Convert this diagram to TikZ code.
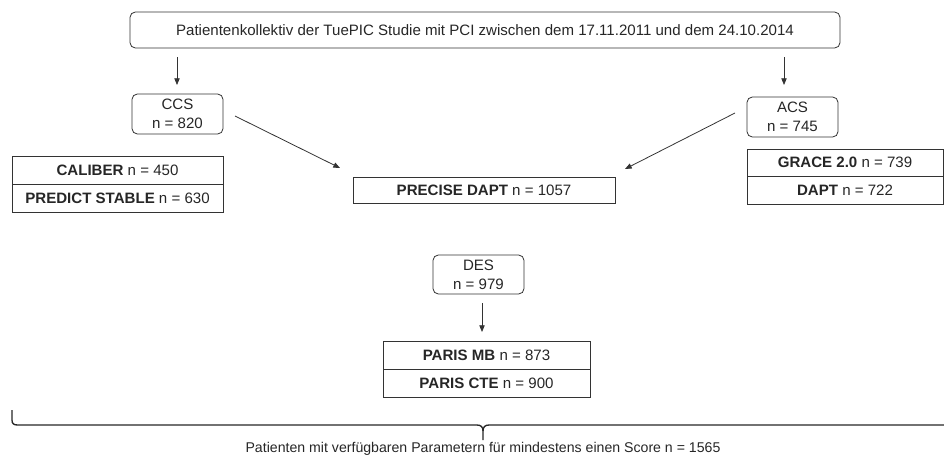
\documentclass[tikz,border=0pt]{standalone}
\usepackage{fontspec}
\setmainfont{Liberation Sans}
\usetikzlibrary{arrows.meta}
\begin{document}
\begin{tikzpicture}[x=0.75pt,y=-0.75pt,
  font=\fontsize{11.3}{14}\selectfont,
  every node/.style={inner sep=0pt, outer sep=0pt, text=black!85},
  roundbox/.style={draw=black!80, line width=0.6pt, rounded corners=4pt, align=center},
  cell/.style={draw=black!80, line width=0.6pt, align=center},
  link/.style={draw=black!80, line width=0.6pt, -{Triangle[length=5pt,width=4pt]}},
]
\useasboundingbox (0,0) rectangle (944,464);

% cohort
\node[roundbox, minimum width=532.5pt, minimum height=27pt] (all) at (485,30)
  {Patientenkollektiv der TuePIC Studie mit PCI zwischen dem 17.11.2011 und dem 24.10.2014};

% subgroups
\node[roundbox, minimum width=68.25pt, minimum height=30pt] (ccs) at (177.5,114) {CCS\\n = 820};
\node[roundbox, minimum width=68.25pt, minimum height=30pt] (acs) at (792.5,117) {ACS\\n = 745};
\node[roundbox, minimum width=68.25pt, minimum height=29.25pt] (des) at (478.5,274.5) {DES\\n = 979};

% scores for CCS
\node[cell, minimum width=158.25pt, minimum height=21pt] (caliber) at (117.5,170) {\textbf{CALIBER} n = 450};
\node[cell, minimum width=158.25pt, minimum height=21pt, anchor=north] (predict) at (caliber.south) {\textbf{PREDICT STABLE} n = 630};

% scores for ACS
\node[cell, minimum width=147pt, minimum height=20.6pt] (grace) at (845,162.75) {\textbf{GRACE 2.0} n = 739};
\node[cell, minimum width=147pt, minimum height=20.6pt, anchor=north] (dapt) at (grace.south) {\textbf{DAPT} n = 722};

% score for all
\node[cell, minimum width=196.5pt, minimum height=19.5pt] (precise) at (484,190) {\textbf{PRECISE DAPT} n = 1057};

% scores for DES
\node[cell, minimum width=155.25pt, minimum height=21pt] (parismb) at (486.5,355) {\textbf{PARIS MB} n = 873};
\node[cell, minimum width=155.25pt, minimum height=21pt, anchor=north] (paricte) at (parismb.south) {\textbf{PARIS CTE} n = 900};

% connector end points
\coordinate (ccsin) at (177,57);
\coordinate (ccsto) at (177,85);
\coordinate (acsin) at (784,57);
\coordinate (acsto) at (784,85);
\coordinate (ccsout) at (235,116);
\coordinate (precl) at (340,168);
\coordinate (acsout) at (735,113);
\coordinate (precr) at (625,169);
\coordinate (desout) at (482,303);
\coordinate (parisin) at (482,332);

\draw[link] (ccsin) -- (ccsto);
\draw[link] (acsin) -- (acsto);
\draw[link] (ccsout) -- (precl);
\draw[link] (acsout) -- (precr);
\draw[link] (desout) -- (parisin);

% brace over all groups
\coordinate (bl) at (12,410);
\coordinate (bm) at (483,440);
\coordinate (br) at (950,425);
\draw[black!85, line width=1pt]
  (bl) -- (12,420) .. controls (12,424) and (14,425) .. (18,425)
  -- (477,425) .. controls (481,425) and (483,427) .. (483,431) -- (bm);
\draw[black!85, line width=1pt]
  (br) -- (489,425) .. controls (485,425) and (483,427) .. (483,431);

\node[font=\fontsize{10.6}{13}\selectfont] (total) at (483,449)
  {Patienten mit verfügbaren Parametern für mindestens einen Score n = 1565};
\end{tikzpicture}
\end{document}
